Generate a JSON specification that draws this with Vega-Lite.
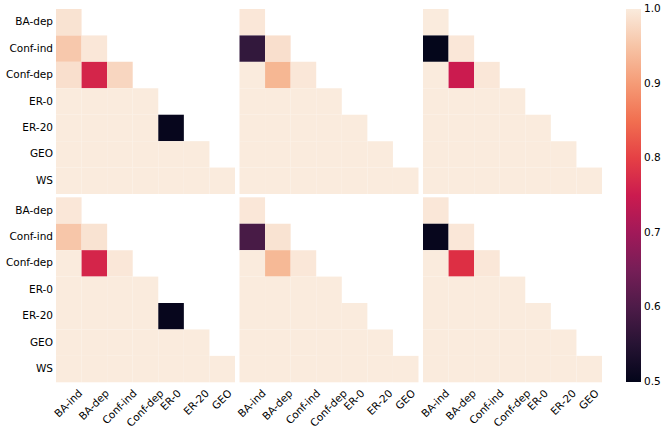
{
  "$schema": "https://vega.github.io/schema/vega-lite/v6.json",
  "background": "white",
  "padding": {"top": 9, "left": 5, "right": 5, "bottom": 5},
  "data": {"values": [
    {"pr":0,"pc":0,"row":"BA-dep","col":"BA-ind","value":0.99},
    {"pr":0,"pc":0,"row":"Conf-ind","col":"BA-ind","value":0.955},
    {"pr":0,"pc":0,"row":"Conf-ind","col":"BA-dep","value":0.995},
    {"pr":0,"pc":0,"row":"Conf-dep","col":"BA-ind","value":0.985},
    {"pr":0,"pc":0,"row":"Conf-dep","col":"BA-dep","value":0.765},
    {"pr":0,"pc":0,"row":"Conf-dep","col":"Conf-ind","value":0.973},
    {"pr":0,"pc":0,"row":"ER-0","col":"BA-ind","value":1.0},
    {"pr":0,"pc":0,"row":"ER-0","col":"BA-dep","value":1.0},
    {"pr":0,"pc":0,"row":"ER-0","col":"Conf-ind","value":1.0},
    {"pr":0,"pc":0,"row":"ER-0","col":"Conf-dep","value":1.0},
    {"pr":0,"pc":0,"row":"ER-20","col":"BA-ind","value":1.0},
    {"pr":0,"pc":0,"row":"ER-20","col":"BA-dep","value":1.0},
    {"pr":0,"pc":0,"row":"ER-20","col":"Conf-ind","value":1.0},
    {"pr":0,"pc":0,"row":"ER-20","col":"Conf-dep","value":1.0},
    {"pr":0,"pc":0,"row":"ER-20","col":"ER-0","value":0.505},
    {"pr":0,"pc":0,"row":"GEO","col":"BA-ind","value":1.0},
    {"pr":0,"pc":0,"row":"GEO","col":"BA-dep","value":1.0},
    {"pr":0,"pc":0,"row":"GEO","col":"Conf-ind","value":1.0},
    {"pr":0,"pc":0,"row":"GEO","col":"Conf-dep","value":1.0},
    {"pr":0,"pc":0,"row":"GEO","col":"ER-0","value":1.0},
    {"pr":0,"pc":0,"row":"GEO","col":"ER-20","value":1.0},
    {"pr":0,"pc":0,"row":"WS","col":"BA-ind","value":1.0},
    {"pr":0,"pc":0,"row":"WS","col":"BA-dep","value":1.0},
    {"pr":0,"pc":0,"row":"WS","col":"Conf-ind","value":1.0},
    {"pr":0,"pc":0,"row":"WS","col":"Conf-dep","value":1.0},
    {"pr":0,"pc":0,"row":"WS","col":"ER-0","value":1.0},
    {"pr":0,"pc":0,"row":"WS","col":"ER-20","value":1.0},
    {"pr":0,"pc":0,"row":"WS","col":"GEO","value":1.0},

    {"pr":0,"pc":1,"row":"BA-dep","col":"BA-ind","value":0.995},
    {"pr":0,"pc":1,"row":"Conf-ind","col":"BA-ind","value":0.567},
    {"pr":0,"pc":1,"row":"Conf-ind","col":"BA-dep","value":0.985},
    {"pr":0,"pc":1,"row":"Conf-dep","col":"BA-ind","value":1.0},
    {"pr":0,"pc":1,"row":"Conf-dep","col":"BA-dep","value":0.932},
    {"pr":0,"pc":1,"row":"Conf-dep","col":"Conf-ind","value":0.995},
    {"pr":0,"pc":1,"row":"ER-0","col":"BA-ind","value":1.0},
    {"pr":0,"pc":1,"row":"ER-0","col":"BA-dep","value":1.0},
    {"pr":0,"pc":1,"row":"ER-0","col":"Conf-ind","value":1.0},
    {"pr":0,"pc":1,"row":"ER-0","col":"Conf-dep","value":1.0},
    {"pr":0,"pc":1,"row":"ER-20","col":"BA-ind","value":1.0},
    {"pr":0,"pc":1,"row":"ER-20","col":"BA-dep","value":1.0},
    {"pr":0,"pc":1,"row":"ER-20","col":"Conf-ind","value":1.0},
    {"pr":0,"pc":1,"row":"ER-20","col":"Conf-dep","value":1.0},
    {"pr":0,"pc":1,"row":"ER-20","col":"ER-0","value":1.0},
    {"pr":0,"pc":1,"row":"GEO","col":"BA-ind","value":1.0},
    {"pr":0,"pc":1,"row":"GEO","col":"BA-dep","value":1.0},
    {"pr":0,"pc":1,"row":"GEO","col":"Conf-ind","value":1.0},
    {"pr":0,"pc":1,"row":"GEO","col":"Conf-dep","value":1.0},
    {"pr":0,"pc":1,"row":"GEO","col":"ER-0","value":1.0},
    {"pr":0,"pc":1,"row":"GEO","col":"ER-20","value":1.0},
    {"pr":0,"pc":1,"row":"WS","col":"BA-ind","value":1.0},
    {"pr":0,"pc":1,"row":"WS","col":"BA-dep","value":1.0},
    {"pr":0,"pc":1,"row":"WS","col":"Conf-ind","value":1.0},
    {"pr":0,"pc":1,"row":"WS","col":"Conf-dep","value":1.0},
    {"pr":0,"pc":1,"row":"WS","col":"ER-0","value":1.0},
    {"pr":0,"pc":1,"row":"WS","col":"ER-20","value":1.0},
    {"pr":0,"pc":1,"row":"WS","col":"GEO","value":1.0},

    {"pr":0,"pc":2,"row":"BA-dep","col":"BA-ind","value":1.0},
    {"pr":0,"pc":2,"row":"Conf-ind","col":"BA-ind","value":0.502},
    {"pr":0,"pc":2,"row":"Conf-ind","col":"BA-dep","value":0.995},
    {"pr":0,"pc":2,"row":"Conf-dep","col":"BA-ind","value":1.0},
    {"pr":0,"pc":2,"row":"Conf-dep","col":"BA-dep","value":0.75},
    {"pr":0,"pc":2,"row":"Conf-dep","col":"Conf-ind","value":0.995},
    {"pr":0,"pc":2,"row":"ER-0","col":"BA-ind","value":1.0},
    {"pr":0,"pc":2,"row":"ER-0","col":"BA-dep","value":1.0},
    {"pr":0,"pc":2,"row":"ER-0","col":"Conf-ind","value":1.0},
    {"pr":0,"pc":2,"row":"ER-0","col":"Conf-dep","value":1.0},
    {"pr":0,"pc":2,"row":"ER-20","col":"BA-ind","value":1.0},
    {"pr":0,"pc":2,"row":"ER-20","col":"BA-dep","value":1.0},
    {"pr":0,"pc":2,"row":"ER-20","col":"Conf-ind","value":1.0},
    {"pr":0,"pc":2,"row":"ER-20","col":"Conf-dep","value":1.0},
    {"pr":0,"pc":2,"row":"ER-20","col":"ER-0","value":1.0},
    {"pr":0,"pc":2,"row":"GEO","col":"BA-ind","value":1.0},
    {"pr":0,"pc":2,"row":"GEO","col":"BA-dep","value":1.0},
    {"pr":0,"pc":2,"row":"GEO","col":"Conf-ind","value":1.0},
    {"pr":0,"pc":2,"row":"GEO","col":"Conf-dep","value":1.0},
    {"pr":0,"pc":2,"row":"GEO","col":"ER-0","value":1.0},
    {"pr":0,"pc":2,"row":"GEO","col":"ER-20","value":1.0},
    {"pr":0,"pc":2,"row":"WS","col":"BA-ind","value":1.0},
    {"pr":0,"pc":2,"row":"WS","col":"BA-dep","value":1.0},
    {"pr":0,"pc":2,"row":"WS","col":"Conf-ind","value":1.0},
    {"pr":0,"pc":2,"row":"WS","col":"Conf-dep","value":1.0},
    {"pr":0,"pc":2,"row":"WS","col":"ER-0","value":1.0},
    {"pr":0,"pc":2,"row":"WS","col":"ER-20","value":1.0},
    {"pr":0,"pc":2,"row":"WS","col":"GEO","value":1.0},

    {"pr":1,"pc":0,"row":"BA-dep","col":"BA-ind","value":0.995},
    {"pr":1,"pc":0,"row":"Conf-ind","col":"BA-ind","value":0.952},
    {"pr":1,"pc":0,"row":"Conf-ind","col":"BA-dep","value":0.99},
    {"pr":1,"pc":0,"row":"Conf-dep","col":"BA-ind","value":1.0},
    {"pr":1,"pc":0,"row":"Conf-dep","col":"BA-dep","value":0.765},
    {"pr":1,"pc":0,"row":"Conf-dep","col":"Conf-ind","value":0.995},
    {"pr":1,"pc":0,"row":"ER-0","col":"BA-ind","value":1.0},
    {"pr":1,"pc":0,"row":"ER-0","col":"BA-dep","value":1.0},
    {"pr":1,"pc":0,"row":"ER-0","col":"Conf-ind","value":1.0},
    {"pr":1,"pc":0,"row":"ER-0","col":"Conf-dep","value":1.0},
    {"pr":1,"pc":0,"row":"ER-20","col":"BA-ind","value":1.0},
    {"pr":1,"pc":0,"row":"ER-20","col":"BA-dep","value":1.0},
    {"pr":1,"pc":0,"row":"ER-20","col":"Conf-ind","value":1.0},
    {"pr":1,"pc":0,"row":"ER-20","col":"Conf-dep","value":1.0},
    {"pr":1,"pc":0,"row":"ER-20","col":"ER-0","value":0.505},
    {"pr":1,"pc":0,"row":"GEO","col":"BA-ind","value":1.0},
    {"pr":1,"pc":0,"row":"GEO","col":"BA-dep","value":1.0},
    {"pr":1,"pc":0,"row":"GEO","col":"Conf-ind","value":1.0},
    {"pr":1,"pc":0,"row":"GEO","col":"Conf-dep","value":1.0},
    {"pr":1,"pc":0,"row":"GEO","col":"ER-0","value":1.0},
    {"pr":1,"pc":0,"row":"GEO","col":"ER-20","value":1.0},
    {"pr":1,"pc":0,"row":"WS","col":"BA-ind","value":1.0},
    {"pr":1,"pc":0,"row":"WS","col":"BA-dep","value":1.0},
    {"pr":1,"pc":0,"row":"WS","col":"Conf-ind","value":1.0},
    {"pr":1,"pc":0,"row":"WS","col":"Conf-dep","value":1.0},
    {"pr":1,"pc":0,"row":"WS","col":"ER-0","value":1.0},
    {"pr":1,"pc":0,"row":"WS","col":"ER-20","value":1.0},
    {"pr":1,"pc":0,"row":"WS","col":"GEO","value":1.0},

    {"pr":1,"pc":1,"row":"BA-dep","col":"BA-ind","value":0.995},
    {"pr":1,"pc":1,"row":"Conf-ind","col":"BA-ind","value":0.595},
    {"pr":1,"pc":1,"row":"Conf-ind","col":"BA-dep","value":0.99},
    {"pr":1,"pc":1,"row":"Conf-dep","col":"BA-ind","value":1.0},
    {"pr":1,"pc":1,"row":"Conf-dep","col":"BA-dep","value":0.935},
    {"pr":1,"pc":1,"row":"Conf-dep","col":"Conf-ind","value":0.995},
    {"pr":1,"pc":1,"row":"ER-0","col":"BA-ind","value":1.0},
    {"pr":1,"pc":1,"row":"ER-0","col":"BA-dep","value":1.0},
    {"pr":1,"pc":1,"row":"ER-0","col":"Conf-ind","value":1.0},
    {"pr":1,"pc":1,"row":"ER-0","col":"Conf-dep","value":1.0},
    {"pr":1,"pc":1,"row":"ER-20","col":"BA-ind","value":1.0},
    {"pr":1,"pc":1,"row":"ER-20","col":"BA-dep","value":1.0},
    {"pr":1,"pc":1,"row":"ER-20","col":"Conf-ind","value":1.0},
    {"pr":1,"pc":1,"row":"ER-20","col":"Conf-dep","value":1.0},
    {"pr":1,"pc":1,"row":"ER-20","col":"ER-0","value":1.0},
    {"pr":1,"pc":1,"row":"GEO","col":"BA-ind","value":1.0},
    {"pr":1,"pc":1,"row":"GEO","col":"BA-dep","value":1.0},
    {"pr":1,"pc":1,"row":"GEO","col":"Conf-ind","value":1.0},
    {"pr":1,"pc":1,"row":"GEO","col":"Conf-dep","value":1.0},
    {"pr":1,"pc":1,"row":"GEO","col":"ER-0","value":1.0},
    {"pr":1,"pc":1,"row":"GEO","col":"ER-20","value":1.0},
    {"pr":1,"pc":1,"row":"WS","col":"BA-ind","value":1.0},
    {"pr":1,"pc":1,"row":"WS","col":"BA-dep","value":1.0},
    {"pr":1,"pc":1,"row":"WS","col":"Conf-ind","value":1.0},
    {"pr":1,"pc":1,"row":"WS","col":"Conf-dep","value":1.0},
    {"pr":1,"pc":1,"row":"WS","col":"ER-0","value":1.0},
    {"pr":1,"pc":1,"row":"WS","col":"ER-20","value":1.0},
    {"pr":1,"pc":1,"row":"WS","col":"GEO","value":1.0},

    {"pr":1,"pc":2,"row":"BA-dep","col":"BA-ind","value":0.995},
    {"pr":1,"pc":2,"row":"Conf-ind","col":"BA-ind","value":0.505},
    {"pr":1,"pc":2,"row":"Conf-ind","col":"BA-dep","value":0.995},
    {"pr":1,"pc":2,"row":"Conf-dep","col":"BA-ind","value":1.0},
    {"pr":1,"pc":2,"row":"Conf-dep","col":"BA-dep","value":0.78},
    {"pr":1,"pc":2,"row":"Conf-dep","col":"Conf-ind","value":0.995},
    {"pr":1,"pc":2,"row":"ER-0","col":"BA-ind","value":1.0},
    {"pr":1,"pc":2,"row":"ER-0","col":"BA-dep","value":1.0},
    {"pr":1,"pc":2,"row":"ER-0","col":"Conf-ind","value":1.0},
    {"pr":1,"pc":2,"row":"ER-0","col":"Conf-dep","value":1.0},
    {"pr":1,"pc":2,"row":"ER-20","col":"BA-ind","value":1.0},
    {"pr":1,"pc":2,"row":"ER-20","col":"BA-dep","value":1.0},
    {"pr":1,"pc":2,"row":"ER-20","col":"Conf-ind","value":1.0},
    {"pr":1,"pc":2,"row":"ER-20","col":"Conf-dep","value":1.0},
    {"pr":1,"pc":2,"row":"ER-20","col":"ER-0","value":1.0},
    {"pr":1,"pc":2,"row":"GEO","col":"BA-ind","value":1.0},
    {"pr":1,"pc":2,"row":"GEO","col":"BA-dep","value":1.0},
    {"pr":1,"pc":2,"row":"GEO","col":"Conf-ind","value":1.0},
    {"pr":1,"pc":2,"row":"GEO","col":"Conf-dep","value":1.0},
    {"pr":1,"pc":2,"row":"GEO","col":"ER-0","value":1.0},
    {"pr":1,"pc":2,"row":"GEO","col":"ER-20","value":1.0},
    {"pr":1,"pc":2,"row":"WS","col":"BA-ind","value":1.0},
    {"pr":1,"pc":2,"row":"WS","col":"BA-dep","value":1.0},
    {"pr":1,"pc":2,"row":"WS","col":"Conf-ind","value":1.0},
    {"pr":1,"pc":2,"row":"WS","col":"Conf-dep","value":1.0},
    {"pr":1,"pc":2,"row":"WS","col":"ER-0","value":1.0},
    {"pr":1,"pc":2,"row":"WS","col":"ER-20","value":1.0},
    {"pr":1,"pc":2,"row":"WS","col":"GEO","value":1.0}
  ]},
  "facet": {
    "row": {"field": "pr", "type": "ordinal", "header": null},
    "column": {"field": "pc", "type": "ordinal", "header": null}
  },
  "spacing": {"row": 3.3, "column": 3.5},
  "resolve": {"scale": {"x": "shared", "y": "shared"}},
  "spec": {
    "width": 179,
    "height": 185,
    "mark": {"type": "rect"},
    "encoding": {
      "x": {
        "field": "col", "type": "nominal",
        "sort": ["BA-ind", "BA-dep", "Conf-ind", "Conf-dep", "ER-0", "ER-20", "GEO"],
        "scale": {"paddingInner": 0, "paddingOuter": 0},
        "axis": {
          "title": null, "domain": false, "ticks": false, "tickSize": 0,
          "labelAngle": -45, "labelAlign": "center", "labelBaseline": "middle",
          "labelFont": "DejaVu Sans", "labelFontSize": 10.5, "labelColor": "#000000",
          "labelOverlap": false, "labelBound": false,
          "labelPadding": {
            "condition": [
              {"test": "datum.value === 'BA-ind'", "value": 20.4},
              {"test": "datum.value === 'BA-dep'", "value": 21.7},
              {"test": "datum.value === 'Conf-ind'", "value": 23.8},
              {"test": "datum.value === 'Conf-dep'", "value": 25.1},
              {"test": "datum.value === 'ER-0'", "value": 16.9},
              {"test": "datum.value === 'ER-20'", "value": 19.2}
            ],
            "value": 16.4
          }
        }
      },
      "y": {
        "field": "row", "type": "nominal",
        "sort": ["BA-dep", "Conf-ind", "Conf-dep", "ER-0", "ER-20", "GEO", "WS"],
        "scale": {"paddingInner": 0, "paddingOuter": 0},
        "axis": {
          "title": null, "domain": false, "ticks": false, "tickSize": 0,
          "labelPadding": 3.5, "labelFont": "DejaVu Sans", "labelFontSize": 10.5,
          "labelColor": "#000000"
        }
      },
      "color": {
        "field": "value", "type": "quantitative",
        "scale": {
          "domain": [0.5, 0.5714, 0.6429, 0.7143, 0.75, 0.7857, 0.8571, 0.9286, 1.0],
          "range": ["#03051a", "#35193e", "#701f57", "#ad1759", "#cb1b4f", "#e13342", "#f37651", "#f6b48f", "#faebdd"],
          "interpolate": "rgb"
        },
        "legend": {
          "title": null,
          "values": [0.5, 0.6, 0.7, 0.8, 0.9, 1.0],
          "format": ".1f",
          "gradientLength": 373,
          "gradientThickness": 15,
          "gradientStrokeWidth": 0,
          "offset": 24,
          "padding": 0,
          "labelFont": "DejaVu Sans",
          "labelFontSize": 10.5,
          "labelColor": "#000000",
          "labelOffset": 3,
          "labelBaseline": "middle",
          "labelOverlap": false,
          "encode": {
            "labels": {"update": {"baseline": {"value": "middle"}}}
          }
        }
      }
    }
  },
  "config": {
    "view": {"stroke": null},
    "font": "DejaVu Sans"
  }
}
